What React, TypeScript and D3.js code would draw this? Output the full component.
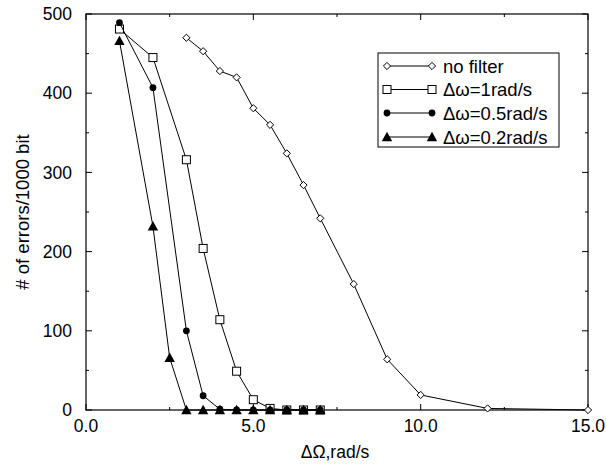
import React from "react";
import * as d3 from "d3";

const noFilterX = [3.0, 3.5, 4.0, 4.5, 5.0, 5.5, 6.0, 6.5, 7.0, 8.0, 9.0, 10.0, 12.0, 15.0];
const noFilterY = [470, 453, 428, 420, 381, 360, 324, 284, 242, 159, 64, 19, 2, 0];

const w1X = [1.0, 2.0, 3.0, 3.5, 4.0, 4.5, 5.0, 5.5, 6.0, 6.5, 7.0];
const w1Y = [481, 445, 316, 204, 114, 49, 13, 2, 0, 0, 0];

const w05X = [1.0, 2.0, 3.0, 3.5, 4.0, 4.5, 5.0, 5.5, 6.0, 6.5, 7.0];
const w05Y = [489, 407, 100, 18, 1, 0, 0, 0, 0, 0, 0];

const w02X = [1.0, 2.0, 2.5, 3.0, 3.5, 4.0, 4.5, 5.0, 5.5, 6.0, 6.5, 7.0];
const w02Y = [466, 232, 66, 0, 0, 0, 0, 0, 0, 0, 0, 0];

const legendLabels = ["no filter", "\u0394\u03c9=1rad/s", "\u0394\u03c9=0.5rad/s", "\u0394\u03c9=0.2rad/s"];
const xTickValues = [0, 5, 10, 15];
const xMinorTicks = [2.5, 7.5, 12.5];
const yTickValues = [0, 100, 200, 300, 400, 500];
const yMinorTicks = [50, 150, 250, 350, 450];
const xTitle = "\u0394\u03a9,rad/s";
const yTitle = "# of errors/1000 bit";

const FONT = "'Liberation Sans', Arial, Helvetica, sans-serif";

type Kind = "diamond" | "square" | "circle" | "triangle";

function Marker({ kind, x, y }: { kind: Kind; x: number; y: number }) {
  if (kind === "diamond") {
    const s = 3.6;
    return (
      <path
        d={`M${x},${y - s}L${x + s},${y}L${x},${y + s}L${x - s},${y}Z`}
        fill="white"
        stroke="black"
        strokeWidth={1}
      />
    );
  }
  if (kind === "square") {
    const s = 4;
    return <rect x={x - s} y={y - s} width={2 * s} height={2 * s} fill="white" stroke="black" strokeWidth={1} />;
  }
  if (kind === "circle") {
    return <circle cx={x} cy={y} r={3.4} fill="black" />;
  }
  const s = 5.2;
  return (
    <path d={`M${x},${y - s}L${x + s},${y + s * 0.8}L${x - s},${y + s * 0.8}Z`} fill="black" />
  );
}

export default function App() {
  const width = 606;
  const height = 464;
  const left = 86;
  const right = 588;
  const top = 14;
  const bottom = 410;

  const x = d3.scaleLinear().domain([0, 15]).range([left, right]);
  const y = d3.scaleLinear().domain([0, 500]).range([bottom, top]);

  const series: { xs: number[]; ys: number[]; kind: Kind }[] = [
    { xs: noFilterX, ys: noFilterY, kind: "diamond" },
    { xs: w1X, ys: w1Y, kind: "square" },
    { xs: w05X, ys: w05Y, kind: "circle" },
    { xs: w02X, ys: w02Y, kind: "triangle" },
  ];

  const line = d3
    .line<[number, number]>()
    .x((d) => x(d[0]))
    .y((d) => y(d[1]));

  const legendX0 = 378;
  const legendY0 = 53;
  const legendW = 181;
  const legendH = 94;
  const rowY = [66, 89.5, 113, 137];
  const fs = 17.5;

  return (
    <svg width={width} height={height} style={{ position: "absolute", left: 0, top: 0, background: "white" }}>
      <rect x={0} y={0} width={width} height={height} fill="white" />
      {/* frame */}
      <rect x={left} y={top} width={right - left} height={bottom - top} fill="none" stroke="black" strokeWidth={1.2} />
      {/* x ticks */}
      {xTickValues.map((t) => (
        <g key={"xt" + t}>
          <line x1={x(t)} x2={x(t)} y1={bottom} y2={bottom - 6} stroke="black" />
          <line x1={x(t)} x2={x(t)} y1={top} y2={top + 6} stroke="black" />
          <text x={x(t)} y={432} textAnchor="middle" fontFamily={FONT} fontSize={fs} fill="black">
            {d3.format(".1f")(t)}
          </text>
        </g>
      ))}
      {xMinorTicks.map((t) => (
        <g key={"xm" + t}>
          <line x1={x(t)} x2={x(t)} y1={bottom} y2={bottom - 3} stroke="black" />
          <line x1={x(t)} x2={x(t)} y1={top} y2={top + 3} stroke="black" />
        </g>
      ))}
      {yTickValues.map((t) => (
        <g key={"yt" + t}>
          <line x1={left} x2={left + 6} y1={y(t)} y2={y(t)} stroke="black" />
          <line x1={right} x2={right - 6} y1={y(t)} y2={y(t)} stroke="black" />
          <text x={72} y={y(t)} dy="0.35em" textAnchor="end" fontFamily={FONT} fontSize={fs} fill="black">
            {t}
          </text>
        </g>
      ))}
      {yMinorTicks.map((t) => (
        <g key={"ym" + t}>
          <line x1={left} x2={left + 3} y1={y(t)} y2={y(t)} stroke="black" />
          <line x1={right} x2={right - 3} y1={y(t)} y2={y(t)} stroke="black" />
        </g>
      ))}
      {/* titles */}
      <text x={335} y={458} textAnchor="middle" fontFamily={FONT} fontSize={fs} fill="black">
        {xTitle}
      </text>
      <text
        transform={`translate(29,${(top + bottom) / 2}) rotate(-90)`}
        textAnchor="middle"
        fontFamily={FONT}
        fontSize={18.5}
        fill="black"
      >
        {yTitle}
      </text>
      {/* series */}
      {series.map((s, i) => {
        const pts: [number, number][] = s.xs.map((v, j) => [v, s.ys[j]]);
        return (
          <g key={"s" + i}>
            <path d={line(pts) || ""} fill="none" stroke="black" strokeWidth={1} />
            {pts.map((p, j) => (
              <Marker key={j} kind={s.kind} x={x(p[0])} y={y(p[1])} />
            ))}
          </g>
        );
      })}
      {/* legend */}
      <rect x={legendX0} y={legendY0} width={legendW} height={legendH} fill="white" stroke="black" strokeWidth={1} />
      {legendLabels.map((lab, i) => (
        <g key={"lg" + i}>
          <line x1={387} x2={432} y1={rowY[i]} y2={rowY[i]} stroke="black" strokeWidth={1} />
          <Marker kind={series[i].kind} x={387} y={rowY[i]} />
          <Marker kind={series[i].kind} x={432} y={rowY[i]} />
          <text x={443} y={rowY[i]} dy="0.36em" fontFamily={FONT} fontSize={18.5} fill="black">
            {lab}
          </text>
        </g>
      ))}
    </svg>
  );
}
